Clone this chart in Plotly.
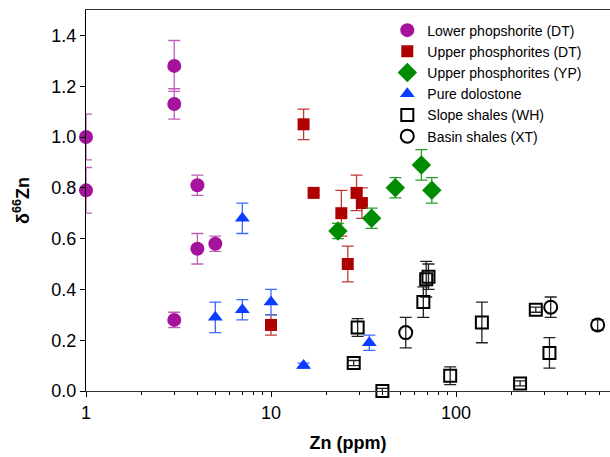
import plotly.graph_objects as go
import math

# Lower phopshorite (DT)
lp_x = [1, 1, 3, 3, 4, 4, 5, 3]
lp_y = [1.00, 0.79, 1.28, 1.13, 0.81, 0.56, 0.58, 0.28]
lp_e = [0.09, 0.09, 0.10, 0.06, 0.04, 0.06, 0.03, 0.03]

# Upper phosphorites (DT)
ud_x = [10, 15, 17, 24, 26, 29, 31]
ud_y = [0.26, 1.05, 0.78, 0.70, 0.50, 0.78, 0.74]
ud_e = [0.04, 0.06, 0.01, 0.09, 0.07, 0.07, 0.06]

# Upper phosphorites (YP)
uy_x = [23, 35, 47, 65, 74]
uy_y = [0.63, 0.68, 0.80, 0.89, 0.79]
uy_e = [0.03, 0.04, 0.04, 0.06, 0.05]

# Pure dolostone
pd_x = [7, 5, 7, 10, 15, 34]
pd_y = [0.68, 0.29, 0.32, 0.35, 0.10, 0.19]
pd_e = [0.06, 0.06, 0.04, 0.05, 0.01, 0.03]

# Slope shales (WH)
ss_x = [28, 29.4, 40, 66.6, 69, 71, 93, 138, 222, 270, 320]
ss_y = [0.11, 0.25, 0.00, 0.35, 0.44, 0.45, 0.06, 0.27, 0.03, 0.32, 0.15]
ss_e = [0.01, 0.035, 0.01, 0.06, 0.07, 0.05, 0.035, 0.08, 0.01, 0.01, 0.06]

# Basin shales (XT)
bs_x = [53.5, 325, 583]
bs_y = [0.23, 0.33, 0.26]
bs_e = [0.06, 0.04, 0.02]

x_major = [1, 10, 100]
x_minor = [m * d for d in (1, 10, 100) for m in range(2, 10)]
y_ticks = [0.0, 0.2, 0.4, 0.6, 0.8, 1.0, 1.2, 1.4]

FONT = "Arial, Liberation Sans, sans-serif"

series = [
    ("Lower phopshorite (DT)", lp_x, lp_y, lp_e, "circle", 14, "#a5139c", "#c060b8", 0),
    ("Upper phosphorites (DT)", ud_x, ud_y, ud_e, "square", 12, "#ae0000", "#c03a3a", 0),
    ("Upper phosphorites (YP)", uy_x, uy_y, uy_e, "diamond", 15, "#008c00", "#2aa02a", 0),
    ("Pure dolostone", pd_x, pd_y, pd_e, "triangle-up", 13, "#0a3dff", "#3d6bff", 0),
    ("Slope shales (WH)", ss_x, ss_y, ss_e, "square-open", 12, "#000000", "#222222", 2),
    ("Basin shales (XT)", bs_x, bs_y, bs_e, "circle-open", 13, "#000000", "#222222", 2),
]

fig = go.Figure()
for name, xs, ys, es, sym, size, col, ecol, lw in series:
    fig.add_trace(go.Scatter(
        x=xs, y=ys, mode="markers", name=name, cliponaxis=False,
        marker=dict(symbol=sym, size=size, color=col,
                    line=dict(width=lw, color=col)),
        error_y=dict(type="data", array=es, visible=True,
                     color=ecol, thickness=1.3, width=6),
    ))

xmax = (610 - 86) / 185.0

fig.update_layout(
    width=610, height=457,
    margin=dict(l=86, r=0, t=10, b=66),
    paper_bgcolor="white", plot_bgcolor="white",
    font=dict(family=FONT, size=14, color="black"),
    showlegend=True,
    legend=dict(x=0.575, y=0.988, xanchor="left", yanchor="top",
                bgcolor="rgba(0,0,0,0)", font=dict(size=14, family=FONT),
                itemsizing="trace", tracegroupgap=0),
    xaxis=dict(
        type="log", range=[0, xmax],
        tickmode="array", tickvals=x_major, ticktext=[str(v) for v in x_major],
        ticks="outside", ticklen=5, tickwidth=1, tickcolor="black",
        tickfont=dict(size=18, family=FONT),
        showgrid=False, zeroline=False,
        showline=True, linecolor="#333333", linewidth=1, mirror=True,
        minor=dict(tickvals=x_minor, ticks="outside", ticklen=3,
                   tickwidth=1, tickcolor="black", showgrid=False),
        title=dict(text="<b>Zn (ppm)</b>", font=dict(size=18, family=FONT), standoff=14),
    ),
    yaxis=dict(
        range=[0, 1.5],
        tickmode="array", tickvals=y_ticks,
        ticktext=[f"{v:.1f}" for v in y_ticks],
        ticks="outside", ticklen=5, tickwidth=1, tickcolor="black",
        tickfont=dict(size=18, family=FONT),
        showgrid=False, zeroline=False,
        showline=True, linecolor="black", linewidth=1, mirror=False,
        title=dict(text="<b>δ<sup>66</sup>Zn</b>", font=dict(size=18, family=FONT), standoff=17),
    ),
)

fig.write_html("out.html", config={"displayModeBar": False},
               post_script="document.body.style.margin='0px';document.body.style.padding='0px';")
